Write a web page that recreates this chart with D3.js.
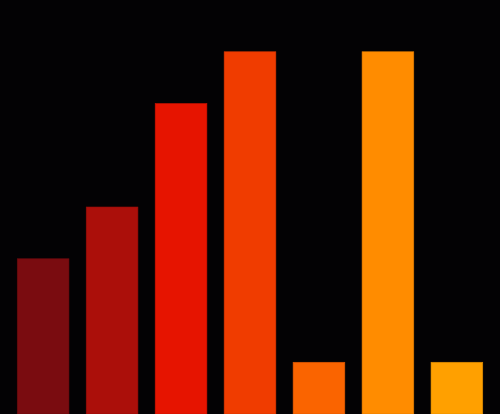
<!DOCTYPE html>
<html>
<head>
<meta charset="utf-8">
<script src="https://cdn.jsdelivr.net/npm/d3@7"></script>
<style>
  html, body { margin: 0; padding: 0; background: #030204; }
</style>
</head>
<body>
<div id="chart"></div>
<script>
// chart data
const categories = ["a", "b", "c", "d", "e", "f", "g"]
const values = [3, 4, 6, 7, 1, 7, 1]
const colors = ["#7a0c10", "#ab0f0a", "#e61400", "#f03c00", "#fa6400", "#ff8c00", "#ffa000"]

const width = 500
const height = 414

const svg = d3.select("#chart").append("svg")
    .attr("width", width)
    .attr("height", height)
    .style("display", "block")

svg.append("rect")
    .attr("width", width)
    .attr("height", height)
    .attr("fill", "#030204")

// scales
const x = d3.scaleBand()
    .domain(categories)
    .range([0, width])
    .padding(0.25)

const y = d3.scaleLinear()
    .domain([0, 8])
    .range([height, 0])

// bars
svg.selectAll(".bar")
    .data(values)
    .enter()
    .append("rect")
    .attr("class", "bar")
    .attr("x", (d, i) => x(categories[i]))
    .attr("y", d => y(d))
    .attr("width", x.bandwidth())
    .attr("height", d => height - y(d))
    .attr("fill", (d, i) => colors[i])
    .attr("stroke", (d, i) => d3.color(colors[i]).darker(0.4))
    .attr("stroke-width", 0.6)
</script>
</body>
</html>
